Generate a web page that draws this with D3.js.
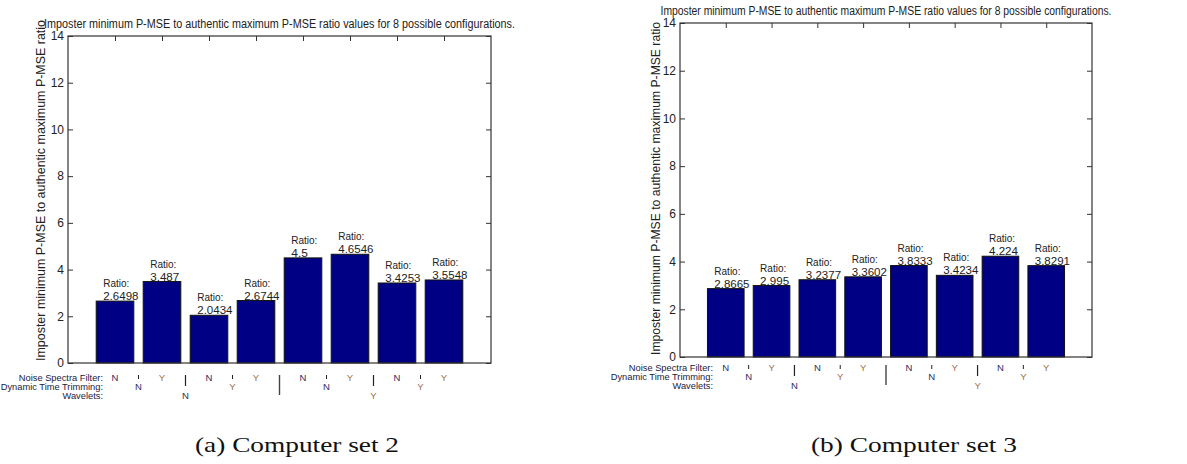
<!doctype html>
<html>
<head>
	<title>ratio bars</title>
	<meta charset="utf-8">
	<script type="text/javascript" src="https://cdn.jsdelivr.net/npm/d3@7/dist/d3.min.js"></script>
	<style>
		body {
			margin: 0;
			background: #fff;
		}
		text {
			font-family: "Liberation Sans", Arial, sans-serif;
		}
		text.caption {
			font-family: "Liberation Serif", "DejaVu Serif", serif;
		}
	</style>
</head>
<body>
	<script type="text/javascript">
		// data
		var configs = [1, 2, 3, 4, 5, 6, 7, 8]
		var ratiosSet2 = [2.6498, 3.487, 2.0434, 2.6744, 4.5, 4.6546, 3.4253, 3.5548]
		var ratiosSet3 = [2.8665, 2.995, 3.2377, 3.3602, 3.8333, 3.4234, 4.224, 3.8291]
		var yTicks = [0, 2, 4, 6, 8, 10, 12, 14]
		var noiseFilter = ["N", "Y", "N", "Y", "N", "Y", "N", "Y"]
		var dttPos = [1.5, 3.5, 5.5, 7.5]
		var dtt = ["N", "Y", "N", "Y"]
		var waveletPos = [2.5, 6.5]
		var wavelets = ["N", "Y"]
		var rowLabels = ["Noise Spectra Filter:", "Dynamic Time Trimming:", "Wavelets:"]
		var chartTitle = "Imposter minimum P-MSE to authentic maximum P-MSE ratio values for 8 possible configurations."
		var yLabel = "Imposter minimum P-MSE to authentic maximum P-MSE ratio"
		var captions = ["(a) Computer set 2", "(b) Computer set 3"]

		var width = 1187
		var height = 464
		var svg = d3.select("body")
					.append("svg")
					.attr("width", width)
					.attr("height", height)

		// panel layout (pixels)
		var panels = [
			{values: ratiosSet2, caption: captions[0], left: 68, right: 491, top: 36, bottom: 363,
			 titleY: 28, titleLen: 471, labelX: 41, labelY: 190.5, labelLen: 341,
			 rows: [381, 390, 399], rowLabelX: 103, sepTop: 374, capX: 297, capLen: 204},
			{values: ratiosSet3, caption: captions[1], left: 680, right: 1092, top: 23, bottom: 357,
			 titleY: 15, titleLen: 451, labelX: 656, labelY: 188.5, labelLen: 333,
			 rows: [371, 380, 389], rowLabelX: 713, sepTop: 364, capX: 914, capLen: 206}
		]

		panels.forEach(function(p) {
			drawPanel(p)
		})

		function drawPanel(p) {
			var x = d3.scaleLinear().domain([0, 9]).range([p.left, p.right])
			var y = d3.scaleLinear().domain([0, 14]).range([p.bottom, p.top])
			var g = svg.append("g")
			var axisColor = "#333"

			// ticks (inside, matlab style)
			g.append("g")
				.attr("transform", "translate(" + p.left + ",0)")
				.call(d3.axisRight(y).tickValues(yTicks).tickSize(5).tickFormat(""))
			g.append("g")
				.attr("transform", "translate(" + p.right + ",0)")
				.call(d3.axisLeft(y).tickValues(yTicks).tickSize(5).tickFormat(""))
			g.append("g")
				.attr("transform", "translate(0," + p.top + ")")
				.call(d3.axisBottom(x).tickValues(configs).tickSize(5).tickFormat(""))
			g.append("g")
				.attr("transform", "translate(0," + p.bottom + ")")
				.call(d3.axisTop(x).tickValues(configs).tickSize(5).tickFormat(""))
			g.selectAll(".domain").remove()
			g.selectAll(".tick line").attr("stroke", axisColor)

			// bars
			g.selectAll("rect.bar")
				.data(p.values)
				.enter()
				.append("rect")
				.attr("class", "bar")
				.attr("x", function(d, i) {
						return x(configs[i] - 0.4)
					})
				.attr("y", function(d) {
						return y(d)
					})
				.attr("width", x(0.8) - x(0))
				.attr("height", function(d) {
						return y(0) - y(d)
					})
				.attr("fill", "#000084")
				.attr("stroke", "#111")
				.attr("stroke-width", 1)

			// box
			g.append("rect")
				.attr("x", p.left)
				.attr("y", p.top)
				.attr("width", p.right - p.left)
				.attr("height", p.bottom - p.top)
				.attr("fill", "none")
				.attr("stroke", axisColor)
				.attr("stroke-width", 1.2)

			// y tick labels
			g.selectAll("text.ytick")
				.data(yTicks)
				.enter()
				.append("text")
				.attr("class", "ytick")
				.attr("x", p.left - 4)
				.attr("y", function(d) {
						return y(d)
					})
				.attr("dy", "0.36em")
				.attr("text-anchor", "end")
				.attr("font-size", "12")
				.attr("fill", "#222")
				.text(function(d) {
						return d
					})

			// bar value labels
			var lab = g.selectAll("g.lab")
				.data(p.values)
				.enter()
				.append("g")
				.attr("class", "lab")
			lab.append("text")
				.attr("x", function(d, i) {
						return x(configs[i] - 0.25)
					})
				.attr("y", function(d) {
						return y(d) - 14
					})
				.attr("font-size", "10")
				.attr("fill", "#222")
				.text("Ratio:")
			lab.append("text")
				.attr("x", function(d, i) {
						return x(configs[i] - 0.25)
					})
				.attr("y", function(d) {
						return y(d) - 1
					})
				.attr("font-size", "10")
				.attr("textLength", 31)
				.attr("lengthAdjust", "spacingAndGlyphs")
				.attr("fill", "#222")
				.text(function(d) {
						return d
					})
				.attr("textLength", function(d) {
						return String(d).length * 6.2 - 2
					})

			// title
			g.append("text")
				.attr("x", (p.left + p.right) / 2)
				.attr("y", p.titleY)
				.attr("text-anchor", "middle")
				.attr("font-size", "12")
				.attr("textLength", p.titleLen)
				.attr("lengthAdjust", "spacingAndGlyphs")
				.attr("fill", "#222")
				.text(chartTitle)

			// y label
			g.append("text")
				.attr("transform", "translate(" + p.labelX + "," + p.labelY + ") rotate(-90)")
				.attr("text-anchor", "middle")
				.attr("dy", "0.35em")
				.attr("font-size", "12.5")
				.attr("textLength", p.labelLen)
				.attr("lengthAdjust", "spacingAndGlyphs")
				.attr("fill", "#222")
				.text(yLabel)

			// configuration table under the axis
			g.selectAll("text.rowlab")
				.data(rowLabels)
				.enter()
				.append("text")
				.attr("class", "rowlab")
				.attr("x", p.rowLabelX)
				.attr("y", function(d, i) {
						return p.rows[i]
					})
				.attr("text-anchor", "end")
				.attr("font-size", "9.3")
				.attr("fill", "#1a1a40")
				.text(function(d) {
						return d
					})

			function ynColor(d) {
				return d == "N" ? "#2e2e5e" : "#9a7450"
			}

			g.selectAll("text.nf")
				.data(noiseFilter)
				.enter()
				.append("text")
				.attr("class", "nf")
				.attr("x", function(d, i) {
						return x(configs[i])
					})
				.attr("y", p.rows[0])
				.attr("text-anchor", "middle")
				.attr("font-size", "9.5")
				.attr("fill", ynColor)
				.text(function(d) {
						return d
					})

			g.selectAll("text.dtt")
				.data(dtt)
				.enter()
				.append("text")
				.attr("class", "dtt")
				.attr("x", function(d, i) {
						return x(dttPos[i])
					})
				.attr("y", p.rows[1])
				.attr("text-anchor", "middle")
				.attr("font-size", "9.5")
				.attr("fill", ynColor)
				.text(function(d) {
						return d
					})

			g.selectAll("text.wav")
				.data(wavelets)
				.enter()
				.append("text")
				.attr("class", "wav")
				.attr("x", function(d, i) {
						return x(waveletPos[i])
					})
				.attr("y", p.rows[2])
				.attr("text-anchor", "middle")
				.attr("font-size", "9.5")
				.attr("fill", ynColor)
				.text(function(d) {
						return d
					})

			// separators: short above dtt, medium above wavelets, long in the middle
			g.selectAll("line.sep1")
				.data(dttPos)
				.enter()
				.append("line")
				.attr("x1", function(d) { return x(d) })
				.attr("x2", function(d) { return x(d) })
				.attr("y1", p.sepTop + 1)
				.attr("y2", p.sepTop + 5)
				.attr("stroke", "#222")
				.attr("stroke-width", 1)
			g.selectAll("line.sep2")
				.data(waveletPos)
				.enter()
				.append("line")
				.attr("x1", function(d) { return x(d) })
				.attr("x2", function(d) { return x(d) })
				.attr("y1", p.sepTop + 1)
				.attr("y2", p.sepTop + 12)
				.attr("stroke", "#222")
				.attr("stroke-width", 1.2)
			g.append("line")
				.attr("x1", x(4.5))
				.attr("x2", x(4.5))
				.attr("y1", p.sepTop + 1)
				.attr("y2", p.sepTop + 21)
				.attr("stroke", "#444")
				.attr("stroke-width", 1.4)

			// caption
			svg.append("text")
				.attr("class", "caption")
				.attr("x", p.capX)
				.attr("y", 452)
				.attr("text-anchor", "middle")
				.attr("font-size", "21")
				.attr("textLength", p.capLen)
				.attr("lengthAdjust", "spacingAndGlyphs")
				.attr("fill", "#111")
				.text(p.caption)
		}
	</script>
</body>
</html>
